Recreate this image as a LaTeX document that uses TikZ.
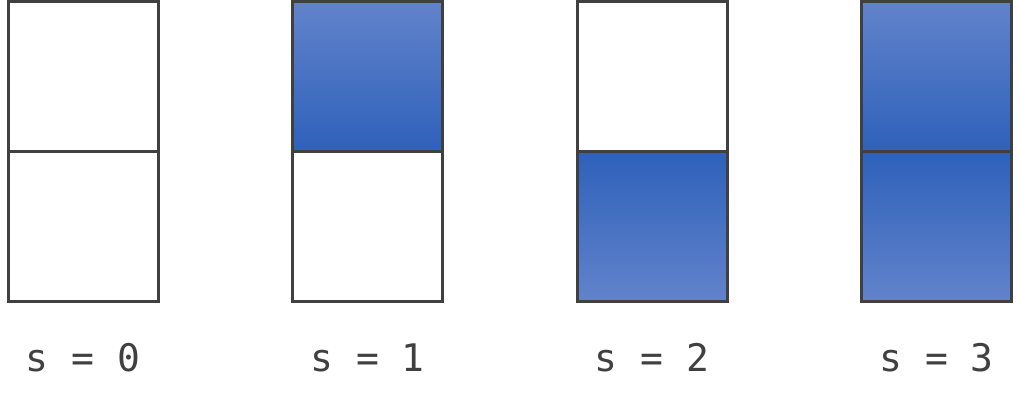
\documentclass[tikz,border=0pt]{standalone}
\usepackage{fontspec}
\setmonofont{DejaVu Sans Mono}
\usetikzlibrary{positioning}
\definecolor{edge}{HTML}{404040}
\definecolor{fillhi}{HTML}{6283CB}
\definecolor{filllo}{HTML}{2E61BA}

\begin{document}
\begin{tikzpicture}[
    x=0.75pt, y=0.75pt,
    cell/.style={draw=edge, line width=2.25pt, minimum size=112.5pt, inner sep=0pt, outer sep=0pt, fill=white},
    upper/.style={cell, top color=fillhi, bottom color=filllo},
    lower/.style={cell, top color=filllo, bottom color=fillhi},
    lbl/.style={font=\ttfamily\fontsize{28.5}{30}\selectfont, text=edge, inner sep=0pt, text height=20pt, text depth=0pt},
    node distance=0pt and 100.875pt
]
\useasboundingbox (0,0) rectangle (1019,407);

\node[cell]  (top0) at (83,330.5) {};
\node[upper, right=of top0] (top1) {};
\node[cell,  right=of top1] (top2) {};
\node[upper, right=of top2] (top3) {};

\node[cell,  below=of top0] (bot0) {};
\node[cell,  below=of top1] (bot1) {};
\node[lower, below=of top2] (bot2) {};
\node[lower, below=of top3] (bot3) {};

\node[lbl, below=32pt of bot0] (s0) {s = 0};
\node[lbl, below=32pt of bot1] (s1) {s = 1};
\node[lbl, below=32pt of bot2] (s2) {s = 2};
\node[lbl, below=32pt of bot3] (s3) {s = 3};
\end{tikzpicture}
\end{document}
